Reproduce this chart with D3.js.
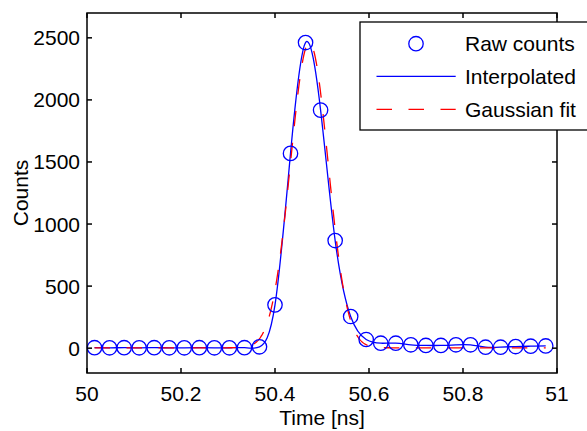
<!DOCTYPE html>
<html>
<head>
<meta charset="utf-8">
<script src="https://cdn.jsdelivr.net/npm/d3@7"></script>
<style>
  html, body { margin: 0; padding: 0; background: #fff; }
  svg { display: block; }
  text { font-family: "Liberation Sans", Arial, Helvetica, sans-serif; font-size: 21px; fill: #000; }
</style>
</head>
<body>
<svg id="chart" width="587" height="431"></svg>
<script>
// Sample times of the detector trace [ns]
const times = [
  50.016, 50.048, 50.079, 50.111, 50.143, 50.175, 50.207, 50.239, 50.271, 50.303,
  50.335, 50.367, 50.400, 50.433, 50.465, 50.497, 50.528, 50.561, 50.594, 50.625,
  50.657, 50.689, 50.721, 50.753, 50.785, 50.816, 50.848, 50.880, 50.912, 50.944, 50.976
];
// Raw counts per sample
const counts = [
  4, 3, 4, 3, 4, 3, 3, 4, 3, 3,
  4, 11, 349, 1569, 2462, 1918, 867, 255, 70, 40,
  40, 27, 22, 22, 27, 27, 8, 8, 13, 16, 18
];
// Gaussian fit parameters: amplitude, centre [ns], sigma [ns], offset
const gaussParams = [2460, 50.473, 0.040, 3];

const xTicks = [50, 50.2, 50.4, 50.6, 50.8, 51];
const yTicks = [0, 500, 1000, 1500, 2000, 2500];
const legendLabels = ["Raw counts", "Interpolated", "Gaussian fit"];

const blue = "#0000ff", red = "#ff0000";
const svg = d3.select("#chart");
const m = { left: 87, right: 557, top: 13, bottom: 373 };

const x = d3.scaleLinear().domain([50, 51]).range([m.left, m.right]);
const y = d3.scaleLinear().domain([-200, 2700]).range([m.bottom, m.top]);

const pts = times.map((t, i) => ({ t, c: counts[i] }));

// Gaussian fit curve evaluated across the sample span
const [gA, gMu, gSig, gOff] = gaussParams;
const gauss = t => gOff + gA * Math.exp(-((t - gMu) ** 2) / (2 * gSig * gSig));
const fitT = d3.range(times[0], times[times.length - 1] + 1e-9, 0.001);
const fitPts = fitT.map(t => ({ t, c: gauss(t) }));

const plot = svg.append("g");

// interpolated trace
plot.append("path")
  .datum(pts)
  .attr("fill", "none")
  .attr("stroke", blue)
  .attr("stroke-width", 1.3)
  .attr("d", d3.line().x(d => x(d.t)).y(d => y(d.c)).curve(d3.curveNatural));

// gaussian fit
plot.append("path")
  .datum(fitPts)
  .attr("fill", "none")
  .attr("stroke", red)
  .attr("stroke-width", 1.3)
  .attr("stroke-dasharray", "15.5,16.5")
  .attr("d", d3.line().x(d => x(d.t)).y(d => y(d.c)));

// raw samples
plot.selectAll("circle.raw")
  .data(pts)
  .join("circle")
  .attr("class", "raw")
  .attr("cx", d => x(d.t))
  .attr("cy", d => y(d.c))
  .attr("r", 7.2)
  .attr("fill", "none")
  .attr("stroke", blue)
  .attr("stroke-width", 1.3);

// axes box with inward ticks on all sides
const tickLen = 5;
const axG = svg.append("g").attr("stroke", "#000").attr("stroke-width", 1.5);
axG.append("rect")
  .attr("x", m.left).attr("y", m.top)
  .attr("width", m.right - m.left).attr("height", m.bottom - m.top)
  .attr("fill", "none");

xTicks.forEach(v => {
  axG.append("line").attr("x1", x(v)).attr("x2", x(v)).attr("y1", m.bottom).attr("y2", m.bottom - tickLen);
  axG.append("line").attr("x1", x(v)).attr("x2", x(v)).attr("y1", m.top).attr("y2", m.top + tickLen);
});
yTicks.forEach(v => {
  axG.append("line").attr("x1", m.left).attr("x2", m.left + tickLen).attr("y1", y(v)).attr("y2", y(v));
  axG.append("line").attr("x1", m.right).attr("x2", m.right - tickLen).attr("y1", y(v)).attr("y2", y(v));
});

svg.selectAll("text.xt")
  .data(xTicks)
  .join("text")
  .attr("class", "xt")
  .attr("x", d => x(d))
  .attr("y", m.bottom + 28)
  .attr("text-anchor", "middle")
  .text(d => d3.format("~g")(d));

svg.selectAll("text.yt")
  .data(yTicks)
  .join("text")
  .attr("class", "yt")
  .attr("x", m.left - 7)
  .attr("y", d => y(d) + 7.5)
  .attr("text-anchor", "end")
  .text(d => d);

svg.append("text")
  .attr("x", (m.left + m.right) / 2)
  .attr("y", 425)
  .attr("text-anchor", "middle")
  .text("Time [ns]");

svg.append("text")
  .attr("transform", `translate(28,${(m.top + m.bottom) / 2}) rotate(-90)`)
  .attr("text-anchor", "middle")
  .text("Counts");

// legend
const lg = svg.append("g");
lg.append("rect")
  .attr("x", 360).attr("y", 22)
  .attr("width", 240).attr("height", 108)
  .attr("fill", "#fff").attr("stroke", "#000").attr("stroke-width", 1.3);

const rowY = [43.7, 76.3, 109.3];
lg.append("circle")
  .attr("cx", 416).attr("cy", rowY[0]).attr("r", 7.2)
  .attr("fill", "none").attr("stroke", blue).attr("stroke-width", 1.3);
lg.append("line")
  .attr("x1", 376.5).attr("x2", 455.7).attr("y1", rowY[1]).attr("y2", rowY[1])
  .attr("stroke", blue).attr("stroke-width", 1.3);
lg.append("line")
  .attr("x1", 376.5).attr("x2", 455.7).attr("y1", rowY[2]).attr("y2", rowY[2])
  .attr("stroke", red).attr("stroke-width", 1.3)
  .attr("stroke-dasharray", "15.5,16.5");

lg.selectAll("text.lt")
  .data(legendLabels)
  .join("text")
  .attr("class", "lt")
  .attr("x", 465)
  .attr("y", (d, i) => rowY[i] + 7.4)
  .text(d => d);
</script>
</body>
</html>
